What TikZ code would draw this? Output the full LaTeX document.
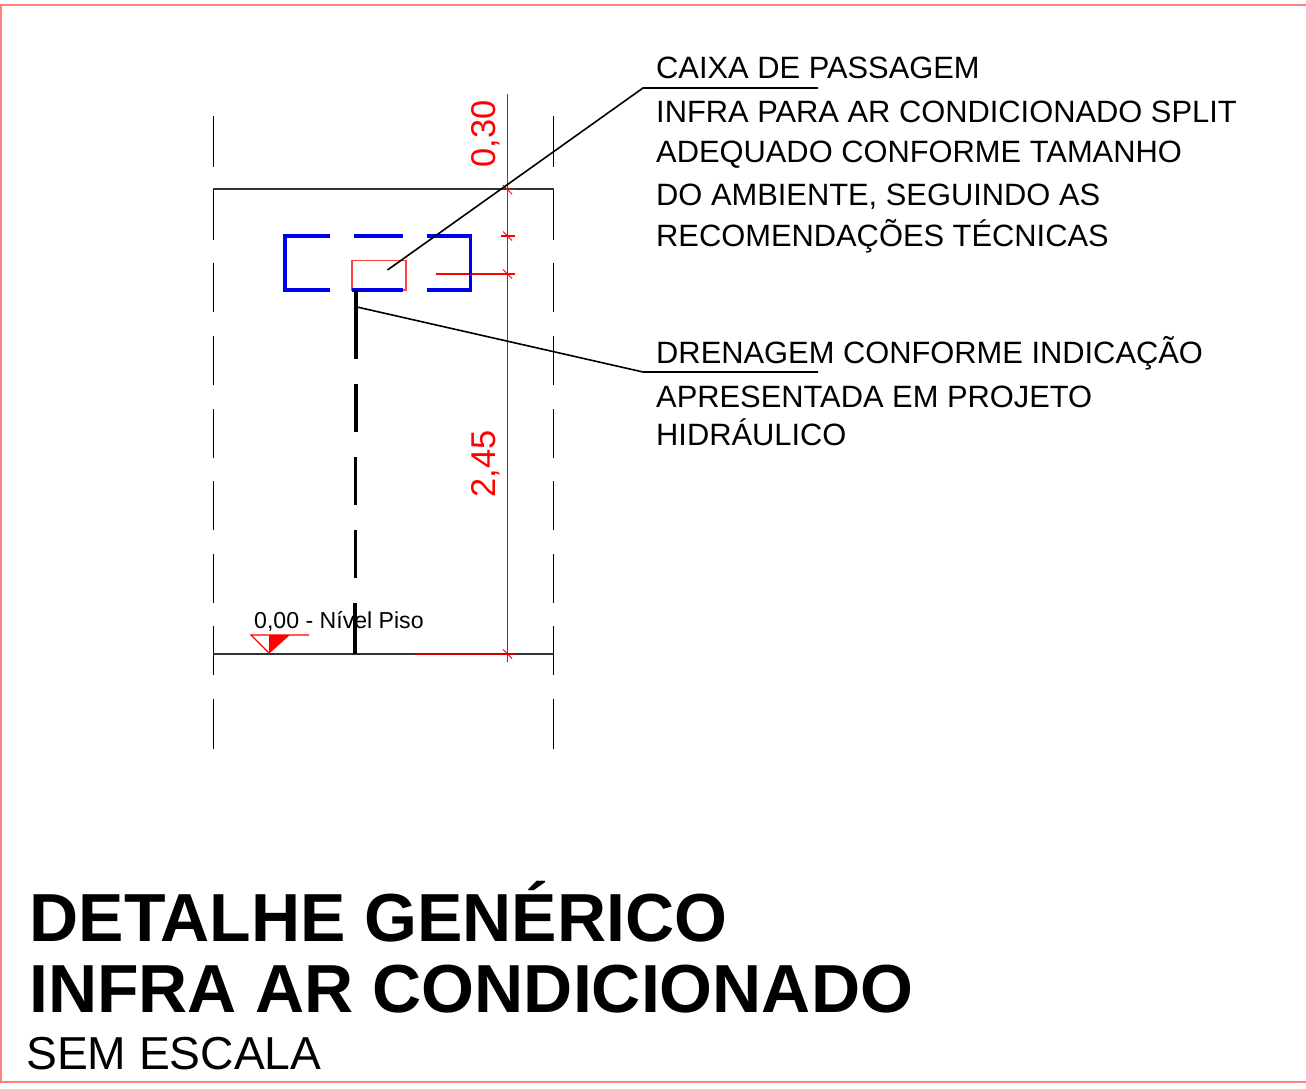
\documentclass[tikz,border=0pt]{standalone}
\usepackage{fontspec}
\setmainfont{Liberation Sans}
\definecolor{framered}{HTML}{FF8080}
\definecolor{dimred}{HTML}{FF0000}
\definecolor{boxblue}{HTML}{0000F0}
\tikzset{
  x=1pt,y=-1pt,
  framestyle/.style={draw=framered,line width=2pt},
  wallline/.style={draw=black,line width=1.4pt},
  slabline/.style={draw=black!80,line width=2pt},
  pipeline/.style={draw=black,line width=3.4pt},
  boxline/.style={draw=boxblue,line width=3.8pt},
  leaderline/.style={draw=black,line width=1.6pt},
  dimline/.style={draw=dimred,line width=1.5pt},
  note/.style={anchor=base west,inner sep=0pt,font=\fontsize{30.85}{31}\selectfont},
  dimtext/.style={anchor=base west,inner sep=0pt,rotate=90,text=dimred,font=\fontsize{34.4}{35}\selectfont},
  titletext/.style={anchor=base west,inner sep=0pt,font=\fontsize{68}{68}\selectfont\bfseries},
  subtitle/.style={anchor=base west,inner sep=0pt,font=\fontsize{46.2}{46}\selectfont},
  level/.style={anchor=base west,inner sep=0pt,font=\fontsize{23.1}{23}\selectfont},
}
\begin{document}
\begin{tikzpicture}
\useasboundingbox (0,0) rectangle (1306,1089);
% frame
\draw[framestyle] (1,1082) -- (1,5) -- (1306,5);
\draw[framestyle] (0,1082) -- (1306,1082);
% walls
\foreach \wx in {213.3,553.5}{
  \foreach \ya/\yb in {116/167,190/240,263/312,336/385,409/458,481/530,554/603,626/675,699/749}{
    \draw[wallline] (\wx,\ya) -- (\wx,\yb);
  }
}
% slabs
\draw[slabline] (213,189) -- (553.5,189);
\draw[slabline] (213,654) -- (553.5,654);
% dimension
\coordinate (dimtop) at (507.3,94);
\coordinate (dimbottom) at (507.3,662);
\draw[dimline] (dimtop) -- (dimbottom);
\draw[dimline] (500,189.5) -- (515,189.5);
\draw[dimline] (501,236) -- (515,236);
\draw[dimline] (436,274) -- (515,274);
\draw[dimline,draw=red!80!black] (415,654) -- (515,654);
\foreach \ty in {189.5,236,274,654}{
  \draw[dimline,line width=1pt] (503,\ty-4.5) -- (512,\ty+4.5);
}
\node[dimtext] (dimA) at (495.7,167.5) {0,30};
\node[dimtext] (dimB) at (495.7,497.5) {2,45};
% red box
\node[draw=dimred!75,line width=1.5pt,minimum width=54pt,minimum height=29.5pt,inner sep=0pt,anchor=north west] (caixa) at (351,259.8) {};
% blue dashed rectangle
\draw[boxline,line join=miter] (329.5,236) -- (285.3,236) -- (285.3,290) -- (329.5,290);
\draw[boxline] (354,236) -- (402.5,236);
\draw[boxline] (351.5,290) -- (402.5,290);
\draw[boxline,line join=miter] (426.5,236) -- (470.5,236) -- (470.5,290) -- (426.5,290);
% drain pipe
\foreach \ya/\xa/\yb/\xb in {290/356/359/356,384/356/432/356,457/355.7/505/355.7,530/355.5/578/355.5,603/355/654/355}{
  \draw[pipeline] (\xa,\ya) -- (\xb,\yb);
}
% leaders
\coordinate (leadA) at (387.5,270);
\coordinate (elbowA) at (643,88);
\coordinate (endA) at (818,88);
\draw[leaderline] (leadA) -- (elbowA) -- (endA);
\coordinate (leadB) at (357,307);
\coordinate (elbowB) at (643,372);
\coordinate (endB) at (818,372);
\draw[leaderline] (leadB) -- (elbowB) -- (endB);
% notes
\node[note] (n1) at (656,79) {CAIXA DE PASSAGEM};
\node[note] (n2) at (656,123) {INFRA PARA AR CONDICIONADO SPLIT};
\node[note] (n3) at (656,162.5) {ADEQUADO CONFORME TAMANHO};
\node[note] (n4) at (656,205.5) {DO AMBIENTE, SEGUINDO AS};
\node[note] (n5) at (656,246.5) {RECOMENDAÇÕES TÉCNICAS};
\node[note] (n6) at (656,363) {DRENAGEM CONFORME INDICAÇÃO};
\node[note] (n7) at (656,407) {APRESENTADA EM PROJETO};
\node[note] (n8) at (656,445) {HIDRÁULICO};
% level marker
\fill[dimred] (269,635) -- (289,635) -- (269,653) -- cycle;
\draw[dimred,line width=1.1pt] (309,635) -- (251,635) -- (269,653) -- (289,635);
\node[level] (nivel) at (254,628) {0,00 - Nível Piso};
% title
\node[titletext] (t1) at (29.5,941) {DETALHE GENÉRICO};
\node[titletext] (t2) at (29,1012) {INFRA AR CONDICIONADO};
\node[subtitle] (t3) at (26,1069) {SEM ESCALA};
\end{tikzpicture}
\end{document}
